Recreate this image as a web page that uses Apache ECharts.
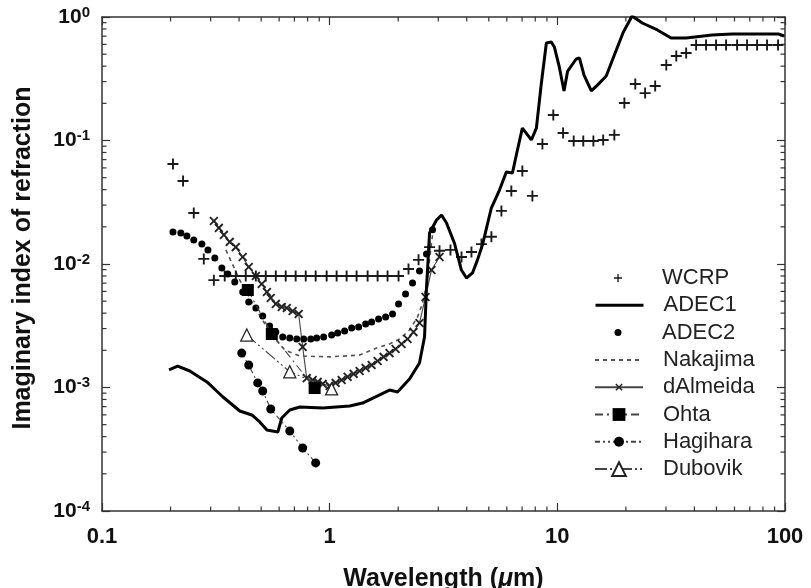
<!DOCTYPE html>
<html><head><meta charset="utf-8">
<script src="https://cdn.jsdelivr.net/npm/echarts@6/dist/echarts.min.js"></script>
<style>html,body{margin:0;padding:0;background:#fff}#c{width:811px;height:588px}</style>
</head><body><div id="c"></div>
<script>
// ---- tick labels ----
const xTickLabels = [0.1, 1, 10, 100];
const yTickLabels = [1e-4, 1e-3, 1e-2, 1e-1, 1];
const seriesNames = ['WCRP', 'ADEC1', 'ADEC2', 'Nakajima', 'dAlmeida', 'Ohta', 'Hagihara', 'Dubovik'];

// ---- data: [wavelength (um), imaginary index] ----
const wcrp = [
  [0.205,0.0645],[0.227,0.047],[0.253,0.0259],[0.280,0.011],[0.310,0.0074],[0.346,0.008],
  [0.387,0.008],[0.428,0.008],[0.474,0.008],[0.524,0.008],[0.580,0.008],[0.641,0.008],
  [0.709,0.008],[0.785,0.008],[0.868,0.008],[0.970,0.008],[1.073,0.008],[1.187,0.008],
  [1.313,0.008],[1.468,0.008],[1.624,0.008],[1.796,0.008],[2.007,0.008],
  [2.22,0.0091],[2.457,0.0108],[2.746,0.0137],[3.037,0.0128],[3.394,0.0130],[3.794,0.0114],
  [4.196,0.0125],[4.642,0.0145],[5.134,0.0166],[5.68,0.0269],[6.28,0.039],[7.02,0.0566],
  [7.77,0.0356],[8.60,0.0937],[9.60,0.161],[10.6,0.115],[11.8,0.099],[13.0,0.099],
  [14.4,0.099],[15.9,0.101],[17.8,0.111],[19.7,0.201],[22.0,0.287],[24.3,0.242],
  [26.9,0.276],[30.1,0.409],[33.3,0.483],[36.8,0.511],
  [40.7,0.593],[45.0,0.593],[49.8,0.593],[55.1,0.593],[61.6,0.593],[68.1,0.593],
  [75.4,0.593],[83.4,0.593],[93.2,0.593]
];
const adec1 = [
  [0.197,0.00139],[0.215,0.00149],[0.243,0.00136],[0.289,0.00111],[0.340,0.000838],
  [0.403,0.000645],[0.455,0.000599],[0.493,0.000526],[0.530,0.000453],[0.592,0.000436],
  [0.616,0.000566],[0.668,0.000657],[0.739,0.000695],[0.932,0.000682],[1.224,0.000708],
  [1.395,0.000748],[1.832,0.000954],[1.986,0.00092],[2.243,0.00117],[2.48,0.00158],
  [2.61,0.00256],[2.66,0.00615],[2.746,0.0178],[2.947,0.0227],[3.10,0.0249],[3.26,0.0215],
  [3.53,0.0148],[3.79,0.00894],[3.99,0.0077],[4.24,0.00846],[4.46,0.0108],[4.69,0.0143],
  [5.13,0.0284],[5.57,0.0397],[5.97,0.0556],[6.35,0.0546],[6.68,0.0838],[7.02,0.126],
  [7.69,0.101],[8.09,0.126],[8.51,0.292],[8.95,0.616],[9.41,0.627],[9.70,0.572],
  [10.2,0.394],[10.7,0.252],[11.1,0.365],[12.1,0.457],[12.5,0.466],[13.1,0.339],
  [14.1,0.252],[15.0,0.281],[16.4,0.333],[17.8,0.492],[19.5,0.756],[21.3,1.02],
  [23.6,0.894],[27.5,0.785],[31.6,0.676],[36.8,0.676],[47.9,0.715],[58.5,0.728],
  [94.1,0.728],[99,0.702]
];
const adec2 = [
  [0.205,0.01816],[0.222,0.0178],[0.236,0.01686],[0.253,0.01565],[0.2746,0.01452],
  [0.292,0.01298],[0.313,0.01119],[0.336,0.00929],[0.357,0.0083],[0.383,0.00715],
  [0.415,0.00593],[0.441,0.00492],[0.474,0.0044],[0.508,0.00379],[0.545,0.00315],
  [0.580,0.00281],[0.622,0.00256],[0.668,0.00252],[0.717,0.00247],[0.769,0.00247],
  [0.826,0.00247],[0.877,0.00252],[0.941,0.00256],[1.020,0.00266],[1.084,0.00276],
  [1.163,0.00287],[1.249,0.00303],[1.340,0.00309],[1.439,0.00327],[1.529,0.00339],
  [1.640,0.00359],[1.761,0.00372],[1.889,0.00394],[2.007,0.00475],[2.154,0.00572],
  [2.312,0.00702],[2.481,0.00878],[2.663,0.01205],[2.83,0.0189]
];
const nakajima = [
  [0.350,0.0130],[0.403,0.0074],[0.469,0.00449],[0.545,0.00281],[0.635,0.00201],
  [0.739,0.0018],[1.0,0.00177],[1.354,0.00183],[1.607,0.00209],[1.832,0.00225],
  [2.028,0.00247],[2.243,0.00292],[2.432,0.00372],[2.558,0.00483],[2.663,0.00677],
  [2.746,0.0108],[2.83,0.0172]
];
const dalmeida = [
  [0.310,0.0223],[0.326,0.0196],[0.343,0.0172],[0.364,0.0151],[0.387,0.0137],
  [0.415,0.0114],[0.441,0.00946],[0.474,0.0080],[0.503,0.00689],[0.530,0.00593],
  [0.551,0.00531],[0.580,0.00475],[0.616,0.00449],[0.648,0.0044],[0.688,0.00416],
  [0.731,0.00394],[0.761,0.00213],[0.793,0.00119],[0.842,0.00115],[0.886,0.00111],
  [0.932,0.00107],[1.0,0.00103],[1.062,0.00109],[1.129,0.00115],[1.199,0.00122],
  [1.274,0.00129],[1.354,0.00136],[1.439,0.00144],[1.529,0.00152],[1.624,0.00164],
  [1.725,0.00177],[1.832,0.0019],[1.948,0.00205],[2.069,0.00225],[2.198,0.00247],
  [2.335,0.00281],[2.481,0.00333],[2.636,0.0054],[2.80,0.00894],[3.037,0.0114]
];
const ohta = [[0.437,0.00616],[0.557,0.00271],[0.859,0.00099]];
const hagihara = [
  [0.411,0.0019],[0.441,0.00152],[0.483,0.00109],[0.508,0.000937],[0.551,0.00067],
  [0.668,0.000444],[0.761,0.000324],[0.868,0.000245]
];
const dubovik = [[0.4325,0.00266],[0.668,0.00134],[1.020,0.000973]];

const plus = 'path://M-1.2,-7H1.2V-1.2H7V1.2H1.2V7H-1.2V1.2H-7V-1.2H-1.2Z';
const FONT = 'Liberation Sans, Arial, sans-serif';
const INK = '#111';

const chart = echarts.init(document.getElementById('c'), null, {renderer: 'canvas'});

const axisCommon = {
  type: 'log', logBase: 10,
  axisLine: {show: true, lineStyle: {color: '#333', width: 1.5}},
  axisTick: {show: true, inside: true, length: 8, lineStyle: {color: '#333', width: 1.2}},
  splitLine: {show: false},
  minorTick: {show: false},
  minorSplitLine: {show: false}
};

// legend rows: icon heights and whether the row shows only a symbol / only a line
const legendH = [8, 14, 7, 14, 11, 16, 12.5, 17];
const symbolOnly = [true, false, true, false, false, false, false, false];
const lineOnly = [false, true, false, true, false, false, false, false];
const legends = seriesNames.map((n, i) => {
  const l = {
    data: [n],
    orient: 'vertical',
    left: 594 + (symbolOnly[i] ? (48 - legendH[i]) / 2 : 0),
    top: 278 + i * 27.3 - 11,
    padding: 0,
    itemWidth: 48,
    itemHeight: legendH[i],
    selectedMode: false,
    textStyle: {fontFamily: FONT, fontSize: 22, color: '#222', lineHeight: 22, padding: [0, 0, 0, 15]}
  };
  if (lineOnly[i]) l.itemStyle = {opacity: 0};
  if (n === 'ADEC1') l.lineStyle = {width: 3, color: '#000'};
  return l;
});

const option = {
  animation: false,
  backgroundColor: '#fff',
  grid: {left: 102, right: 26, top: 17, bottom: 77, containLabel: false, outerBoundsMode: 'none'},
  legend: legends,
  xAxis: [
    Object.assign({}, axisCommon, {
      position: 'bottom', min: 0.1, max: 100, interval: 1,
      name: 'Wavelength ({i|\u03bc}m)', nameLocation: 'middle', nameGap: 56,
      nameTextStyle: {fontFamily: FONT, fontSize: 25, fontWeight: 'bold', color: INK,
        rich: {i: {fontFamily: FONT, fontSize: 25, fontWeight: 'bold', fontStyle: 'italic', color: INK}}},
      axisLabel: {show: true, margin: 15, fontFamily: FONT, fontSize: 22, fontWeight: 'bold', color: INK,
        formatter: v => String(xTickLabels.find(t => Math.abs(Math.log10(t) - Math.log10(v)) < 1e-6) ?? '')}
    }),
    Object.assign({}, axisCommon, {position: 'top', min: 0.1, max: 100, interval: 1, axisLabel: {show: false}})
  ],
  yAxis: [
    Object.assign({}, axisCommon, {
      position: 'left', min: 1e-4, max: 1, interval: 1,
      name: 'Imaginary index of refraction', nameLocation: 'middle', nameGap: 66,
      nameTextStyle: {fontFamily: FONT, fontSize: 25, fontWeight: 'bold', color: INK, padding: [0, 0, 0, 12]},
      axisLabel: {show: true, margin: 12,
        formatter: v => {
          const t = yTickLabels.find(t => Math.abs(Math.log10(t) - Math.log10(v)) < 1e-6);
          if (t === undefined) return '';
          return '{b|10}{s|' + Math.round(Math.log10(t)) + '}';
        },
        rich: {
          b: {fontFamily: FONT, fontSize: 21, fontWeight: 'bold', color: INK, lineHeight: 24},
          s: {fontFamily: FONT, fontSize: 15, fontWeight: 'bold', color: INK, lineHeight: 14, verticalAlign: 'top'}
        }}
    }),
    Object.assign({}, axisCommon, {position: 'right', min: 1e-4, max: 1, interval: 1, axisLabel: {show: false}})
  ],
  series: [
    {name: 'WCRP', type: 'scatter', data: wcrp, symbol: plus, symbolSize: 11,
      itemStyle: {color: '#1a1a1a', opacity: 1}, z: 3},
    {name: 'ADEC1', type: 'line', data: adec1, showSymbol: false, symbol: 'none',
      lineStyle: {color: '#000', width: 3}, itemStyle: {color: '#000'}, z: 4},
    {name: 'ADEC2', type: 'scatter', data: adec2, symbol: 'circle', symbolSize: 7,
      itemStyle: {color: '#000', opacity: 1}, z: 3},
    {name: 'Nakajima', type: 'line', data: nakajima, symbol: 'none', showSymbol: false,
      lineStyle: {color: '#555', width: 1.6, type: [4, 4]}, itemStyle: {color: '#555'}, z: 2},
    {name: 'dAlmeida', type: 'line', data: dalmeida, symbol: plus, symbolRotate: 45, symbolSize: 11,
      lineStyle: {color: '#444', width: 1.1}, itemStyle: {color: '#222'}, z: 2},
    {name: 'Ohta', type: 'line', data: ohta, symbol: 'rect', symbolSize: 12,
      lineStyle: {color: '#444', width: 1.1, type: [8, 4, 2, 4]}, itemStyle: {color: '#000'}, z: 5},
    {name: 'Hagihara', type: 'line', data: hagihara, symbol: 'circle', symbolSize: 9,
      lineStyle: {color: '#444', width: 1.1, type: [5, 3, 2, 3, 2, 3]}, itemStyle: {color: '#000'}, z: 5},
    {name: 'Dubovik', type: 'line', data: dubovik, symbol: 'triangle', symbolSize: 12,
      lineStyle: {color: '#444', width: 1.1, type: [12, 3, 2, 3, 2, 3]},
      itemStyle: {color: '#fff', borderColor: '#222', borderWidth: 1.3}, z: 5}
  ]
};
chart.setOption(option);

// minor ticks at 2..9 x 10^k, placed through the axes' own scales
const minorX = [], minorY = [];
for (let e = -1; e < 2; e++) for (let m = 2; m <= 9; m++) minorX.push(m * Math.pow(10, e));
for (let e = -4; e < 0; e++) for (let m = 2; m <= 9; m++) minorY.push(m * Math.pow(10, e));
const g = [];
const x0 = chart.convertToPixel({xAxisIndex: 0}, 0.1), x1 = chart.convertToPixel({xAxisIndex: 0}, 100);
const yb = chart.convertToPixel({yAxisIndex: 0}, 1e-4), yt = chart.convertToPixel({yAxisIndex: 0}, 1);
const tl = 4.5, ts = {stroke: '#333', lineWidth: 1.2};
minorX.forEach(v => {
  const px = chart.convertToPixel({xAxisIndex: 0}, v);
  g.push({type: 'line', shape: {x1: px, y1: yb, x2: px, y2: yb - tl}, style: ts, silent: true});
  g.push({type: 'line', shape: {x1: px, y1: yt, x2: px, y2: yt + tl}, style: ts, silent: true});
});
minorY.forEach(v => {
  const py = chart.convertToPixel({yAxisIndex: 0}, v);
  g.push({type: 'line', shape: {x1: x0, y1: py, x2: x0 + tl, y2: py}, style: ts, silent: true});
  g.push({type: 'line', shape: {x1: x1, y1: py, x2: x1 - tl, y2: py}, style: ts, silent: true});
});
chart.setOption({graphic: g});
</script>
</body></html>
